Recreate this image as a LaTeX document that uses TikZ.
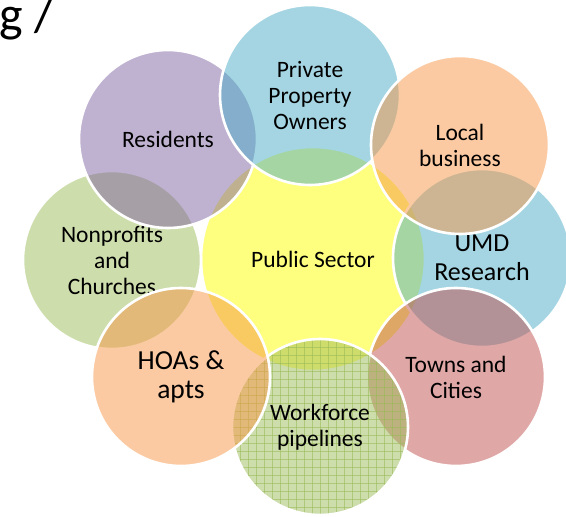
\documentclass[tikz,border=0pt]{standalone}
\usepackage{fontspec}
\setmainfont{Carlito}
\definecolor{cYel}{HTML}{FFFF00}
\definecolor{cAqua}{HTML}{4BACC6}
\definecolor{cOrange}{HTML}{F79646}
\definecolor{cRed}{HTML}{C0504D}
\definecolor{cGreen}{HTML}{9BBB59}
\definecolor{cPurple}{HTML}{8064A2}
\tikzset{
  bub/.style={circle, draw=white, line width=2.6pt, fill opacity=0.5,
    text opacity=1, draw opacity=1, inner sep=0pt, align=center,
    minimum size=178pt, font=\fontsize{23.5}{26}\selectfont},
  gridline/.style={draw=cGreen, draw opacity=0.6, line width=0.8pt},
  titletext/.style={anchor=base west, inner sep=0pt, font=\fontsize{50}{50}\selectfont}
}
\begin{document}
\begin{tikzpicture}[x=1pt,y=-1pt]
\useasboundingbox (0,0) rectangle (566,517);
\node[titletext] (title) at (-1,31) {g /};
% center
\node[bub, fill=cYel, minimum size=224pt] (pub) at (313,259) {Public Sector};
% outer circles, bottom to top
\node[bub, fill=cGreen] (nonp) at (112,260) {Nonprofits\\and\\Churches};
\node[bub, fill=cAqua, font=\fontsize{26}{29}\selectfont] (umd) at (482,258) {UMD\\Research};
\node[bub, fill=cRed] (towns) at (456,377) {Towns and\\Cities};
\node[bub, fill=cGreen, minimum size=176pt,
  path picture={
    \foreach \i in {-12,...,12}{
      \draw[gridline] (path picture bounding box.center) ++(\i*8,-100) -- ++(0,200);
      \draw[gridline] (path picture bounding box.center) ++(-100,\i*8) -- ++(200,0);
    }
  }] (work) at (320,427) {Workforce\\pipelines};
\node[bub, fill=cOrange, font=\fontsize{27.5}{28.5}\selectfont] (hoas) at (181,377) {HOAs \&\\apts};
\node[bub, fill=cPurple] (resid) at (168,139) {Residents};
\node[bub, fill=cAqua, minimum size=180pt] (priv) at (310,95) {Private\\Property\\Owners};
\node[bub, fill=cOrange] (local) at (460,145) {Local\\business};
\end{tikzpicture}
\end{document}
